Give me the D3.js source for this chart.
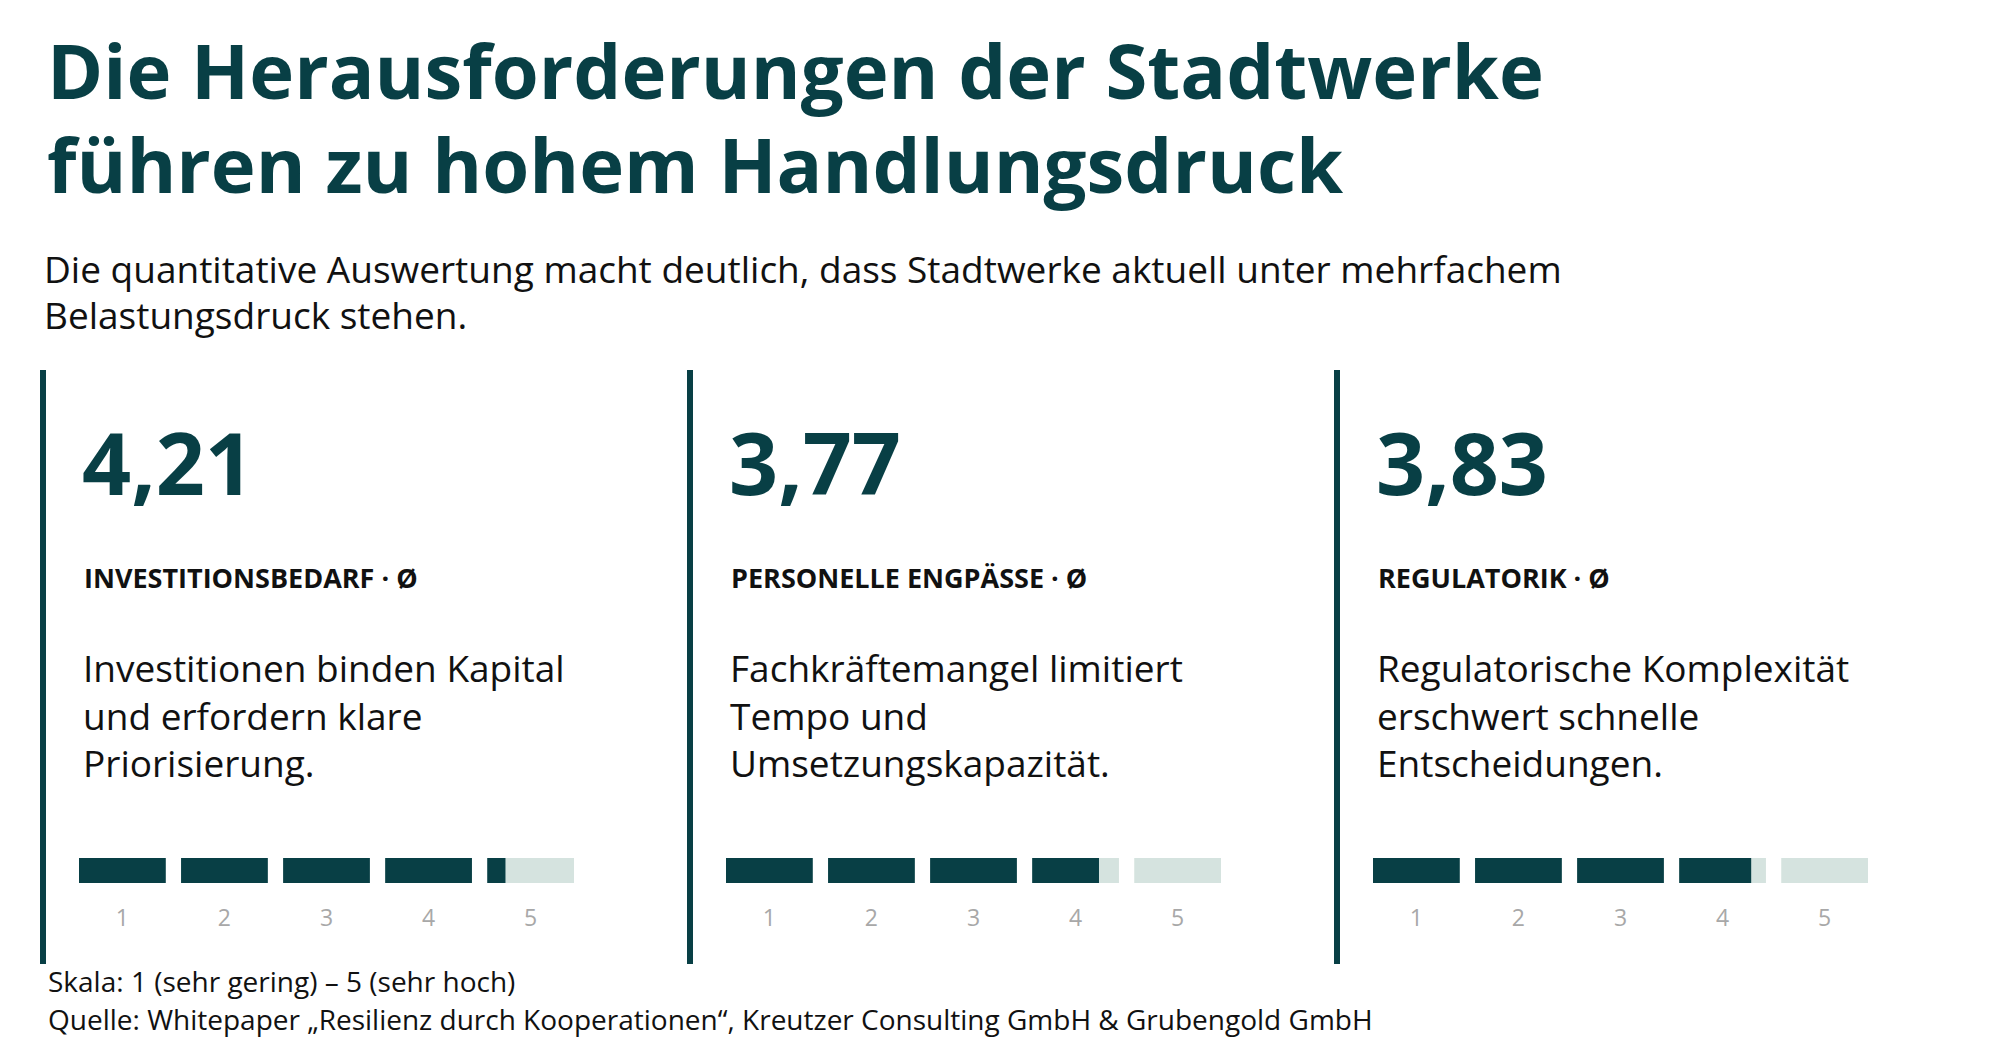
<!DOCTYPE html>
<html><head><meta charset="utf-8">
<script src="https://cdn.jsdelivr.net/npm/d3@7"></script>
<style>body{margin:0;background:#fff}svg{display:block}text{font-family:"Open Sans",sans-serif}</style>
</head><body><svg id="c" width="2000" height="1057"></svg>
<script>
const values = [4.21, 3.77, 3.83];
const labels = ["INVESTITIONSBEDARF · Ø", "PERSONELLE ENGPÄSSE · Ø", "REGULATORIK · Ø"];
const descriptions = [
  ["Investitionen binden Kapital", "und erfordern klare", "Priorisierung."],
  ["Fachkräftemangel limitiert", "Tempo und", "Umsetzungskapazität."],
  ["Regulatorische Komplexität", "erschwert schnelle", "Entscheidungen."]
];
const scaleTicks = [1, 2, 3, 4, 5];
const DARK = "#083f45", LIGHT = "#d5e3df";

const svg = d3.select("#c");
svg.append("text").attr("x", 47).attr("y", 99).attr("font-size", 76).attr("font-weight", 700).attr("fill", DARK).text("Die Herausforderungen der Stadtwerke");
svg.append("text").attr("x", 47).attr("y", 193).attr("font-size", 76).attr("font-weight", 700).attr("fill", DARK).text("führen zu hohem Handlungsdruck");
svg.append("text").attr("x", 44).attr("y", 283).attr("font-size", 37).attr("fill", "#111").text("Die quantitative Auswertung macht deutlich, dass Stadtwerke aktuell unter mehrfachem");
svg.append("text").attr("x", 44).attr("y", 329).attr("font-size", 37).attr("fill", "#111").text("Belastungsdruck stehen.");

const panelX = d3.scaleBand().domain(d3.range(values.length)).range([43, 43 + 647 * 3]);
const fmt = v => d3.format(".2f")(v).replace(".", ",");

values.forEach((v, i) => {
  const x0 = panelX(i);
  const g = svg.append("g").attr("transform", `translate(${x0},0)`);
  g.append("rect").attr("x", -3).attr("y", 370).attr("width", 6).attr("height", 594).attr("fill", DARK);
  g.append("text").attr("x", 39).attr("y", 495).attr("font-size", 86).attr("font-weight", 700).attr("fill", DARK).text(fmt(v));
  g.append("text").attr("x", 41).attr("y", 588).attr("font-size", 27).attr("font-weight", 700).attr("fill", "#111").text(labels[i]);
  descriptions[i].forEach((line, j) => {
    g.append("text").attr("x", 40).attr("y", 682 + j * 47.5).attr("font-size", 37).attr("fill", "#111").text(line);
  });
  const sx = d3.scaleBand().domain(scaleTicks).range([36, 36 + 99 * 5]).paddingInner(0.15).paddingOuter(0);
  const seg = g.append("g");
  scaleTicks.forEach(t => {
    const frac = Math.max(0, Math.min(1, v - (t - 1)));
    seg.append("rect").attr("x", sx(t)).attr("y", 858).attr("width", sx.bandwidth()).attr("height", 25).attr("fill", LIGHT);
    seg.append("rect").attr("x", sx(t)).attr("y", 858).attr("width", sx.bandwidth() * frac).attr("height", 25).attr("fill", DARK);
    seg.append("text").attr("x", sx(t) + sx.bandwidth() / 2).attr("y", 926).attr("text-anchor", "middle").attr("font-size", 23).attr("fill", "#a8a8a8").text(t);
  });
});

svg.append("text").attr("x", 48).attr("y", 992).attr("font-size", 28).attr("fill", "#111").text("Skala: 1 (sehr gering) – 5 (sehr hoch)");
svg.append("text").attr("x", 48).attr("y", 1030).attr("font-size", 28).attr("fill", "#111").text("Quelle: Whitepaper „Resilienz durch Kooperationen“, Kreutzer Consulting GmbH & Grubengold GmbH");
</script></body></html>
